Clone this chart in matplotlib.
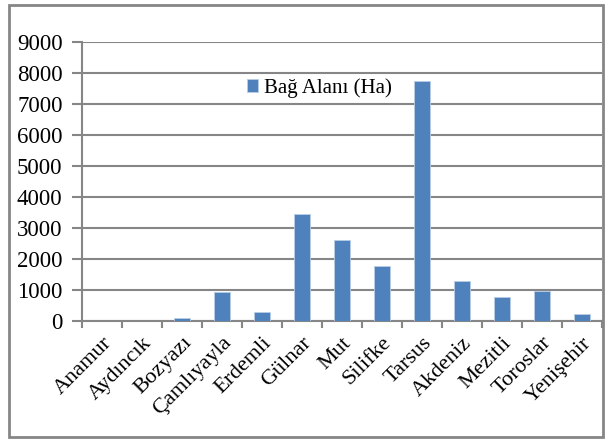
import matplotlib
matplotlib.use('Agg')
import matplotlib.pyplot as plt
from matplotlib.patches import Rectangle

plt.rcParams['font.family'] = ['Liberation Serif', 'DejaVu Serif']

# ilçeler ve bağ alanları
ilceler = ['Anamur', 'Aydıncık', 'Bozyazı', 'Çamlıyayla', 'Erdemli', 'Gülnar',
           'Mut', 'Silifke', 'Tarsus', 'Akdeniz', 'Mezitli', 'Toroslar', 'Yenişehir']
bag_alani = [10, 8, 90, 930, 290, 3440, 2610, 1785, 7740, 1290, 775, 980, 225]
y_ticks = [0, 1000, 2000, 3000, 4000, 5000, 6000, 7000, 8000, 9000]

fig = plt.figure(figsize=(6.09, 4.44), dpi=100)
W, H = 609, 444
ax = fig.add_axes([82 / W, 1 - 321 / H, 520 / W, 279 / H])

x = range(len(ilceler))
ax.bar(x, bag_alani, width=0.4, color='#4F81BD', edgecolor='#B9CDE5',
       linewidth=0.6, label='Bağ Alanı (Ha)', zorder=3)

ax.set_xlim(-0.5, len(ilceler) - 0.5)
ax.set_ylim(0, 9000)
ax.set_yticks(y_ticks)
ax.set_yticklabels([str(v) for v in y_ticks], fontsize=16.5)
ax.yaxis.grid(True, color='#868686', linewidth=1.5, zorder=0)

ax.set_xticks([i - 0.5 for i in range(len(ilceler) + 1)], minor=False)
ax.set_xticklabels([])
ax.set_xticks(list(x), minor=True)
ax.set_xticklabels(ilceler, minor=True, rotation=45, ha='right',
                   rotation_mode='anchor', fontsize=16)
ax.tick_params(axis='x', which='minor', length=0, pad=9)
ax.tick_params(axis='x', which='major', length=5, color='#868686', width=1.5)
ax.tick_params(axis='y', length=7, color='#868686', width=1.5, direction='out', pad=7)

for s in ['top', 'right']:
    ax.spines[s].set_visible(False)
for s in ['left', 'bottom']:
    ax.spines[s].set_color('#868686')
    ax.spines[s].set_linewidth(1.5)

leg = ax.legend(loc='center left', bbox_to_anchor=(228 / W, 1 - 88 / H),
                bbox_transform=fig.transFigure, frameon=False, fontsize=15,
                handlelength=0.55, handleheight=0.55, handletextpad=0.3)

fig.patches.append(Rectangle((9 / W, 1 - 437 / H), 594 / W, 432 / H,
                             transform=fig.transFigure, fill=False,
                             edgecolor='#868686', linewidth=2))

plt.savefig('out.png', dpi=100)
